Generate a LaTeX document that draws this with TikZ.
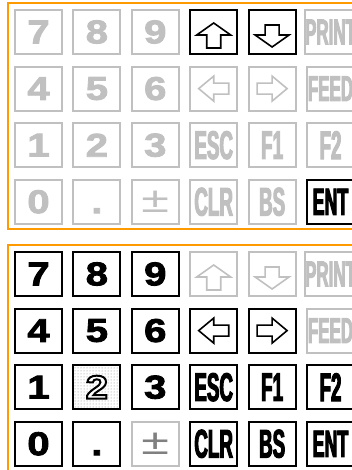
\documentclass[tikz,border=0pt]{standalone}
\usepackage{fontspec}
\setmainfont{Liberation Sans}
\newfontfamily\digitfont[FakeStretch=1.22,FakeBold=2.5]{Liberation Sans Bold}
\newfontfamily\hollowfont[FakeStretch=1.22]{Liberation Sans Bold}
\newfontfamily\wordfont[FakeStretch=0.47,FakeBold=2.5]{Liberation Sans Bold}
\usetikzlibrary{patterns}
\definecolor{panelorange}{RGB}{255,155,0}
\definecolor{keygray}{RGB}{192,192,192}
\newcommand{\dig}[1]{{\fontsize{33}{33}\digitfont #1}}
\newcommand{\wrd}[2][40]{{\fontsize{#1}{#1}\wordfont #2}}
\newcommand{\hollow}[1]{{\fontsize{33}{33}\hollowfont\color{white}\special{pdf:literal direct 2 Tr 2 w 0 G}#1\special{pdf:literal direct 0 Tr}}}
\newcommand{\pmsign}{\scalebox{1.4}[1]{\fontsize{36}{36}\selectfont ±}}
\tikzset{
	keyon/.style={draw=black,line width=2pt,minimum width=47pt,minimum height=44pt,inner sep=0pt,text=black},
	keyoff/.style={keyon,draw=keygray,text=keygray},
	panel/.style={draw=panelorange,line width=2pt},
	uparrow/.pic={\draw[line width=1.6pt,pic actions] (0,-9)--(17,3)--(7,3)--(7,16)--(-7,16)--(-7,3)--(-17,3)--cycle;},
	downarrow/.pic={\draw[line width=1.6pt,pic actions] (0,15)--(17,3)--(7,3)--(7,-7)--(-7,-7)--(-7,3)--(-17,3)--cycle;},
	sidearrow/.pic={\draw[line width=1.6pt,pic actions] (-15,0)--(0,-12.5)--(0,-5.5)--(15,-5.5)--(15,5.5)--(0,5.5)--(0,12.5)--cycle;}
}
\begin{document}
\begin{tikzpicture}[x=1pt,y=-1pt,declare function={kx(\i)=38.5+58.4*\i; ky(\j)=32+56.6*\j; kyb(\j)=274+56.6*\j;}]
	\path[use as bounding box,clip] (0,0) rectangle (352,470);
	% upper panel
	\draw[panel] (8,3) rectangle (370,229);
	\foreach \n/\i/\j in {7/0/0,8/1/0,9/2/0,4/0/1,5/1/1,6/2/1,1/0/2,2/1/2,3/2/2,0/0/3}
	\node[keyoff] (a\n) at ({kx(\i)},{ky(\j)}) {\dig{\n}};
	\node[keyoff] (adot) at ({kx(1)},{ky(3)}) {\dig{\vphantom{0}.}};
	\node[keyoff] (apm) at ({kx(2)},{ky(3)}) {\pmsign};
	\foreach \n/\i/\j in {ESC/3/2,F1/4/2,F2/5/2,CLR/3/3,BS/4/3}
	\node[keyoff] (a\n) at ({kx(\i)},{ky(\j)}) {\wrd{\n}};
	\foreach \n/\j in {PRINT/0,FEED/1}
	\node[keyoff] (a\n) at ({kx(5)},{ky(\j)}) {\wrd[36]{\n}};
	\node[keyon] (aENT) at ({kx(5)},{ky(3)}) {\wrd[38]{ENT}};
	\node[keyon] (aup) at ({kx(3)},{ky(0)}) {};
	\node[keyon] (adown) at ({kx(4)},{ky(0)}) {};
	\node[keyoff] (aleft) at ({kx(3)},{ky(1)}) {};
	\node[keyoff] (aright) at ({kx(4)},{ky(1)}) {};
	\pic[draw=black] at (aup.center) {uparrow};
	\pic[draw=black] at (adown.center) {downarrow};
	\pic[draw=keygray] at (aleft.center) {sidearrow};
	\pic[draw=keygray,xscale=-1] at (aright.center) {sidearrow};
	% lower panel
	\draw[panel] (8,245) rectangle (370,490);
	\foreach \n/\i/\j in {7/0/0,8/1/0,9/2/0,4/0/1,5/1/1,6/2/1,1/0/2,3/2/2,0/0/3}
	\node[keyon] (b\n) at ({kx(\i)},{kyb(\j)}) {\dig{\n}};
	\node[keyon,pattern=dots,pattern color=gray] (b2) at ({kx(1)},{kyb(2)}) {\hollow{2}};
	\node[keyon] (bdot) at ({kx(1)},{kyb(3)}) {\dig{\vphantom{0}.}};
	\node[keyoff,text=gray] (bpm) at ({kx(2)},{kyb(3)}) {\pmsign};
	\foreach \n/\i/\j in {ESC/3/2,F1/4/2,F2/5/2,CLR/3/3,BS/4/3}
	\node[keyon] (b\n) at ({kx(\i)},{kyb(\j)}) {\wrd{\n}};
	\foreach \n/\j in {PRINT/0,FEED/1}
	\node[keyoff] (b\n) at ({kx(5)},{kyb(\j)}) {\wrd[36]{\n}};
	\node[keyon] (bENT) at ({kx(5)},{kyb(3)}) {\wrd[38]{ENT}};
	\node[keyoff] (bup) at ({kx(3)},{kyb(0)}) {};
	\node[keyoff] (bdown) at ({kx(4)},{kyb(0)}) {};
	\node[keyon] (bleft) at ({kx(3)},{kyb(1)}) {};
	\node[keyon] (bright) at ({kx(4)},{kyb(1)}) {};
	\pic[draw=keygray] at (bup.center) {uparrow};
	\pic[draw=keygray] at (bdown.center) {downarrow};
	\pic[draw=black] at (bleft.center) {sidearrow};
	\pic[draw=black,xscale=-1] at (bright.center) {sidearrow};
\end{tikzpicture}
\end{document}
